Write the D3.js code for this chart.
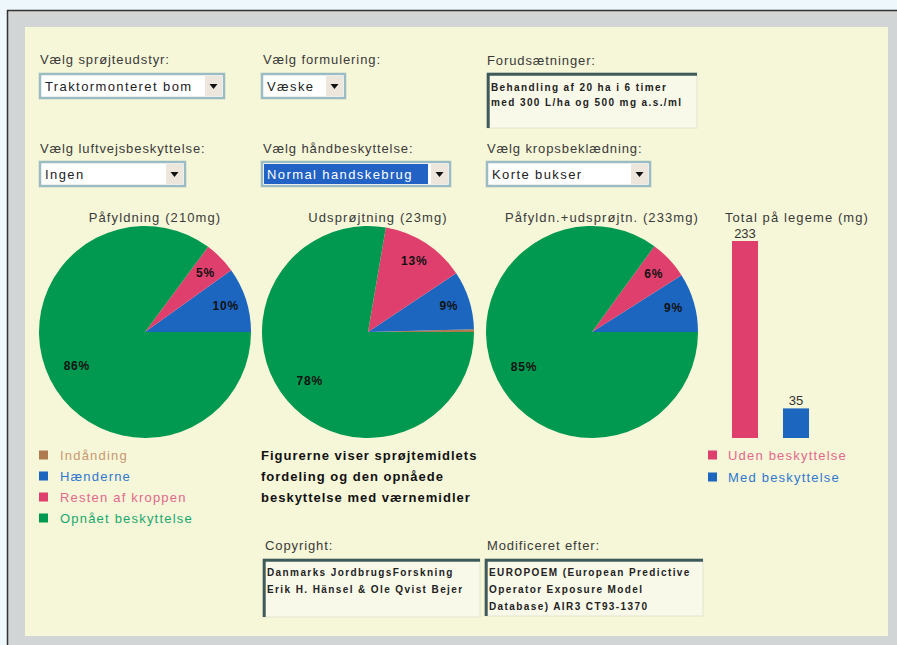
<!DOCTYPE html>
<html><head><meta charset="utf-8">
<script src="https://cdn.jsdelivr.net/npm/d3@7"></script>
<style>html,body{margin:0;padding:0;background:#eef7fb;}svg{display:block;font-family:"Liberation Sans",Arial,sans-serif;}</style>
</head><body>
<svg id="c" width="897" height="645"></svg>
<script>
// ---- data ----
const legendLabels = ["Indånding", "Hænderne", "Resten af kroppen", "Opnået beskyttelse"];
const legendTextColors = ["#c99870", "#2f78d0", "#e2688c", "#19a86e"];
const sliceColors = ["#b07a50", "#1c66c0", "#de3f6c", "#00994f"];
const pieTitles = ["Påfyldning (210mg)", "Udsprøjtning (23mg)", "Påfyldn.+udsprøjtn. (233mg)"];
const piePafyldning = [0, 10, 5, 86];
const pieUdsprojtning = [0.4, 9, 13, 78];
const pieTotal = [0, 9, 6, 85];
const barTitle = "Total på legeme (mg)";
const barCategories = ["Uden beskyttelse", "Med beskyttelse"];
const barValues = [233, 35];
const barColors = ["#de3f6c", "#1c66c0"];
const barTextColors = ["#e2688c", "#2f78d0"];
const noteLines = ["Figurerne viser sprøjtemidlets", "fordeling og den opnåede", "beskyttelse med værnemidler"];
const controlLabels = ["Vælg sprøjteudstyr:", "Vælg formulering:", "Forudsætninger:", "Vælg luftvejsbeskyttelse:", "Vælg håndbeskyttelse:", "Vælg kropsbeklædning:"];
const selectValues = ["Traktormonteret bom", "Væske", "Ingen", "Normal handskebrug", "Korte bukser"];
const premiseLines = ["Behandling af 20 ha i 6 timer", "med 300 L/ha og 500 mg a.s./ml"];
const copyrightLines = ["Danmarks JordbrugsForskning", "Erik H. Hänsel & Ole Qvist Bejer"];
const sourceLines = ["EUROPOEM (European Predictive", "Operator Exposure Model", "Database) AIR3 CT93-1370"];

const svg = d3.select("#c");

// ---- frame ----
svg.append("rect").attr("x", 7).attr("y", 10).attr("width", 895).attr("height", 640).attr("fill", "#d2d5d5");
svg.append("line").attr("x1", 7).attr("y1", 10.5).attr("x2", 897).attr("y2", 10.5).attr("stroke", "#333").attr("stroke-width", 1.5);
svg.append("line").attr("x1", 7.5).attr("y1", 10).attr("x2", 7.5).attr("y2", 645).attr("stroke", "#333").attr("stroke-width", 1.5);
svg.append("rect").attr("x", 25).attr("y", 27).attr("width", 863).attr("height", 609).attr("fill", "#f6f6d8");

const labelColor = "#3a3a3a";

// ---- controls ----
function label(x, y, t) {
  svg.append("text").attr("x", x).attr("y", y).attr("font-size", 13).attr("letter-spacing", 0.9)
    .attr("fill", labelColor).text(t);
}
function select(x, y, w, h, t, hi) {
  const g = svg.append("g");
  g.append("rect").attr("x", x).attr("y", y).attr("width", w).attr("height", h)
    .attr("fill", "#fff").attr("stroke", "#9cbcc4").attr("stroke-width", 2.5);
  if (hi) g.append("rect").attr("x", x + 2).attr("y", y + 2).attr("width", w - 24).attr("height", h - 4).attr("fill", "#2262c4");
  g.append("rect").attr("x", x + w - 19).attr("y", y + 2).attr("width", 17).attr("height", h - 4).attr("fill", "#ece6dc");
  const cx = x + w - 10.5, cy = y + h / 2;
  g.append("path").attr("d", `M${cx - 4},${cy - 2}L${cx + 4},${cy - 2}L${cx},${cy + 3}Z`).attr("fill", "#111");
  g.append("text").attr("x", x + 5).attr("y", y + h / 2 + 4.5).attr("font-size", 13).attr("letter-spacing", 1.4)
    .attr("fill", hi ? "#fff" : "#222").text(t);
}
function textbox(x, y, w, h, lines, first, step) {
  svg.append("rect").attr("x", x).attr("y", y).attr("width", w).attr("height", h)
    .attr("fill", "#f9f9ea").attr("stroke", "#e4e4d0");
  svg.append("line").attr("x1", x).attr("y1", y + 1.2).attr("x2", x + w).attr("y2", y + 1.2).attr("stroke", "#3f5a5a").attr("stroke-width", 3);
  svg.append("line").attr("x1", x + 1.2).attr("y1", y).attr("x2", x + 1.2).attr("y2", y + h).attr("stroke", "#3f5a5a").attr("stroke-width", 3);
  lines.forEach((l, i) => svg.append("text").attr("x", x + 4).attr("y", y + first + i * step)
    .attr("font-size", 10).attr("letter-spacing", 1.4).attr("font-weight", "bold").attr("fill", "#222").text(l));
}
label(40, 64, controlLabels[0]);
label(263, 64, controlLabels[1]);
label(487, 65, controlLabels[2]);
label(40, 153, controlLabels[3]);
label(263, 153, controlLabels[4]);
label(487, 153, controlLabels[5]);
select(40, 74, 184, 24, selectValues[0], false);
select(262, 74, 83, 24, selectValues[1], false);
textbox(487, 73, 210, 55, premiseLines, 17.5, 15);
select(40, 162, 145, 24, selectValues[2], false);
select(262, 162, 188, 24, selectValues[3], true);
select(487, 162, 163, 24, selectValues[4], false);

// ---- pies ----
const R = 106;
const pieCenters = [145, 368, 592];
const pieData = [piePafyldning, pieUdsprojtning, pieTotal];
const pie = d3.pie().sort(null).startAngle(Math.PI / 2).endAngle(Math.PI / 2 - 2 * Math.PI);
const arc = d3.arc().innerRadius(0).outerRadius(R);
pieData.forEach((vals, p) => {
  const g = svg.append("g").attr("transform", `translate(${pieCenters[p]},332)`);
  svg.append("text").attr("x", pieCenters[p] + 10).attr("y", 222).attr("text-anchor", "middle")
    .attr("font-size", 13).attr("letter-spacing", 1.1).attr("fill", labelColor).text(pieTitles[p]);
  const arcs = pie(vals);
  g.selectAll("path").data(arcs).join("path").attr("d", arc).attr("fill", (d, i) => sliceColors[i]);
  g.selectAll("text").data(arcs.filter(d => d.value >= 1)).join("text")
    .attr("transform", d => {
      const share = Math.abs(d.endAngle - d.startAngle) / (2 * Math.PI);
      const r = share > 0.5 ? 0.72 * R : 0.8 * R;
      const a = (d.startAngle + d.endAngle) / 2;
      return `translate(${r * Math.sin(a)},${-r * Math.cos(a) + 4})`;
    })
    .attr("text-anchor", "middle").attr("font-size", 12).attr("letter-spacing", 0.8)
    .attr("font-weight", "bold").attr("fill", "#111")
    .text(d => d.value + "%");
});

// ---- legend left ----
legendLabels.forEach((l, i) => {
  const y = 455 + i * 21;
  svg.append("rect").attr("x", 39).attr("y", y - 4.5).attr("width", 9).attr("height", 9).attr("fill", sliceColors[i]);
  svg.append("text").attr("x", 60).attr("y", y + 5).attr("font-size", 13).attr("letter-spacing", 1.2)
    .attr("fill", legendTextColors[i]).text(l);
});

// ---- note ----
noteLines.forEach((l, i) => svg.append("text").attr("x", 261).attr("y", 460 + i * 21)
  .attr("font-size", 13).attr("letter-spacing", 1).attr("font-weight", "bold").attr("fill", "#111").text(l));

// ---- bar chart ----
svg.append("text").attr("x", 797).attr("y", 222).attr("text-anchor", "middle")
  .attr("font-size", 13).attr("letter-spacing", 1.1).attr("fill", labelColor).text(barTitle);
const x = d3.scaleBand().domain(barCategories).range([706.5, 834.5]).paddingInner(0.49).paddingOuter(0.5);
const y = d3.scaleLinear().domain([0, 233]).range([438, 241]);
svg.selectAll("rect.bar").data(barValues).join("rect").attr("class", "bar")
  .attr("x", (d, i) => x(barCategories[i])).attr("width", x.bandwidth())
  .attr("y", d => y(d)).attr("height", d => y(0) - y(d)).attr("fill", (d, i) => barColors[i]);
svg.selectAll("text.bv").data(barValues).join("text").attr("class", "bv")
  .attr("x", (d, i) => x(barCategories[i]) + x.bandwidth() / 2).attr("y", d => y(d) - 3)
  .attr("text-anchor", "middle").attr("font-size", 13).attr("fill", "#333").text(d => d);
barCategories.forEach((c, i) => {
  const yy = 455 + i * 22;
  svg.append("rect").attr("x", 708).attr("y", yy - 4.5).attr("width", 9).attr("height", 9).attr("fill", barColors[i]);
  svg.append("text").attr("x", 728).attr("y", yy + 5).attr("font-size", 13).attr("letter-spacing", 1.2)
    .attr("fill", barTextColors[i]).text(c);
});

// ---- bottom boxes ----
label(265, 550, "Copyright:");
label(487, 550, "Modificeret efter:");
textbox(263, 559, 217, 58, copyrightLines, 17, 17);
textbox(485, 559, 218, 57, sourceLines, 17, 17);
</script>
</body></html>
